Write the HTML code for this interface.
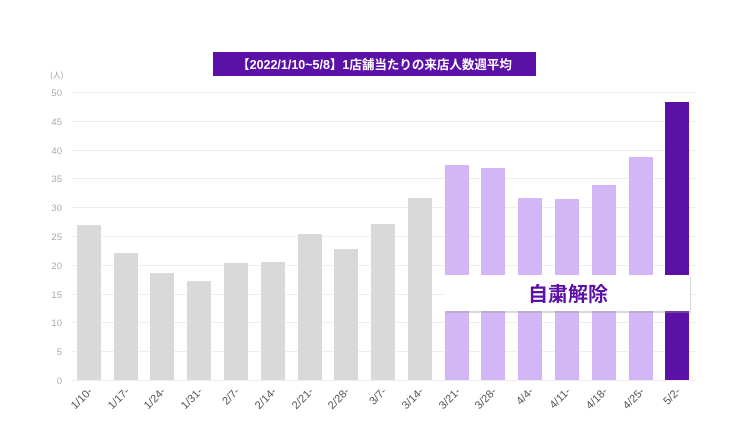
<!DOCTYPE html>
<html><head><meta charset="utf-8"><style>
html,body{margin:0;padding:0;background:#fff;width:746px;height:442px;overflow:hidden}
svg{display:block;font-family:"Liberation Sans","Noto Sans CJK JP",sans-serif}
</style></head><body>
<svg width="746" height="442" viewBox="0 0 746 442" xmlns="http://www.w3.org/2000/svg">
<rect x="213" y="52" width="323" height="24" fill="#5b10a6"/>
<text x="374.5" y="69" text-anchor="middle" fill="#fff" font-size="12.5" font-weight="bold" font-family="Liberation Sans,Noto Sans CJK JP,sans-serif">【2022/1/10~5/8】1店舗当たりの来店人数週平均</text>
<text x="50" y="78" fill="#999" font-size="8" font-family="Noto Sans CJK JP,sans-serif">(人)</text>
<g stroke="#eeeeee" stroke-width="1">
<line x1="71" x2="697" y1="92.5" y2="92.5"/><line x1="71" x2="697" y1="121.5" y2="121.5"/>
<line x1="71" x2="697" y1="150.5" y2="150.5"/><line x1="71" x2="697" y1="178.5" y2="178.5"/>
<line x1="71" x2="697" y1="207.5" y2="207.5"/><line x1="71" x2="697" y1="236.5" y2="236.5"/>
<line x1="71" x2="697" y1="265.5" y2="265.5"/><line x1="71" x2="697" y1="294.5" y2="294.5"/>
<line x1="71" x2="697" y1="322.5" y2="322.5"/><line x1="71" x2="697" y1="351.5" y2="351.5"/>
<line x1="71" x2="697" y1="380.5" y2="380.5"/>
</g>
<g fill="#aaa" font-size="9.5" text-anchor="end">
<text x="62" y="96">50</text><text x="62" y="125">45</text><text x="62" y="154">40</text>
<text x="62" y="182">35</text><text x="62" y="211">30</text><text x="62" y="240">25</text>
<text x="62" y="269">20</text><text x="62" y="298">15</text><text x="62" y="326">10</text>
<text x="62" y="355">5</text><text x="62" y="384">0</text>
</g>
<g fill="#d9d9d9">
<rect x="77" y="225" width="24" height="155"/>
<rect x="114" y="253" width="24" height="127"/>
<rect x="150" y="273" width="24" height="107"/>
<rect x="187" y="281" width="24" height="99"/>
<rect x="224" y="263" width="24" height="117"/>
<rect x="261" y="262" width="24" height="118"/>
<rect x="298" y="234" width="24" height="146"/>
<rect x="334" y="249" width="24" height="131"/>
<rect x="371" y="224" width="24" height="156"/>
<rect x="408" y="198" width="24" height="182"/>
</g>
<g fill="#d3b6f5">
<rect x="445" y="165" width="24" height="215"/>
<rect x="481" y="168" width="24" height="212"/>
<rect x="518" y="198" width="24" height="182"/>
<rect x="555" y="199" width="24" height="181"/>
<rect x="592" y="185" width="24" height="195"/>
<rect x="629" y="157" width="24" height="223"/>
</g>
<rect x="665" y="102" width="24" height="278" fill="#5b10a6"/>
<rect x="446" y="277" width="245" height="36" fill="#999" opacity="0.35"/>
<rect x="444" y="275" width="246" height="36" fill="#fff"/>
<text x="568" y="301" text-anchor="middle" fill="#5b10a6" font-size="20" font-weight="bold" font-family="Noto Sans CJK JP,sans-serif">自粛解除</text>
<g fill="#555" font-size="11" text-anchor="end">
<text transform="translate(93,392) rotate(-45)">1/10-</text>
<text transform="translate(130,392) rotate(-45)">1/17-</text>
<text transform="translate(166,392) rotate(-45)">1/24-</text>
<text transform="translate(203,392) rotate(-45)">1/31-</text>
<text transform="translate(240,392) rotate(-45)">2/7-</text>
<text transform="translate(277,392) rotate(-45)">2/14-</text>
<text transform="translate(314,392) rotate(-45)">2/21-</text>
<text transform="translate(350,392) rotate(-45)">2/28-</text>
<text transform="translate(387,392) rotate(-45)">3/7-</text>
<text transform="translate(424,392) rotate(-45)">3/14-</text>
<text transform="translate(461,392) rotate(-45)">3/21-</text>
<text transform="translate(497,392) rotate(-45)">3/28-</text>
<text transform="translate(534,392) rotate(-45)">4/4-</text>
<text transform="translate(571,392) rotate(-45)">4/11-</text>
<text transform="translate(608,392) rotate(-45)">4/18-</text>
<text transform="translate(645,392) rotate(-45)">4/25-</text>
<text transform="translate(681,392) rotate(-45)">5/2-</text>
</g>
</svg>
</body></html>
